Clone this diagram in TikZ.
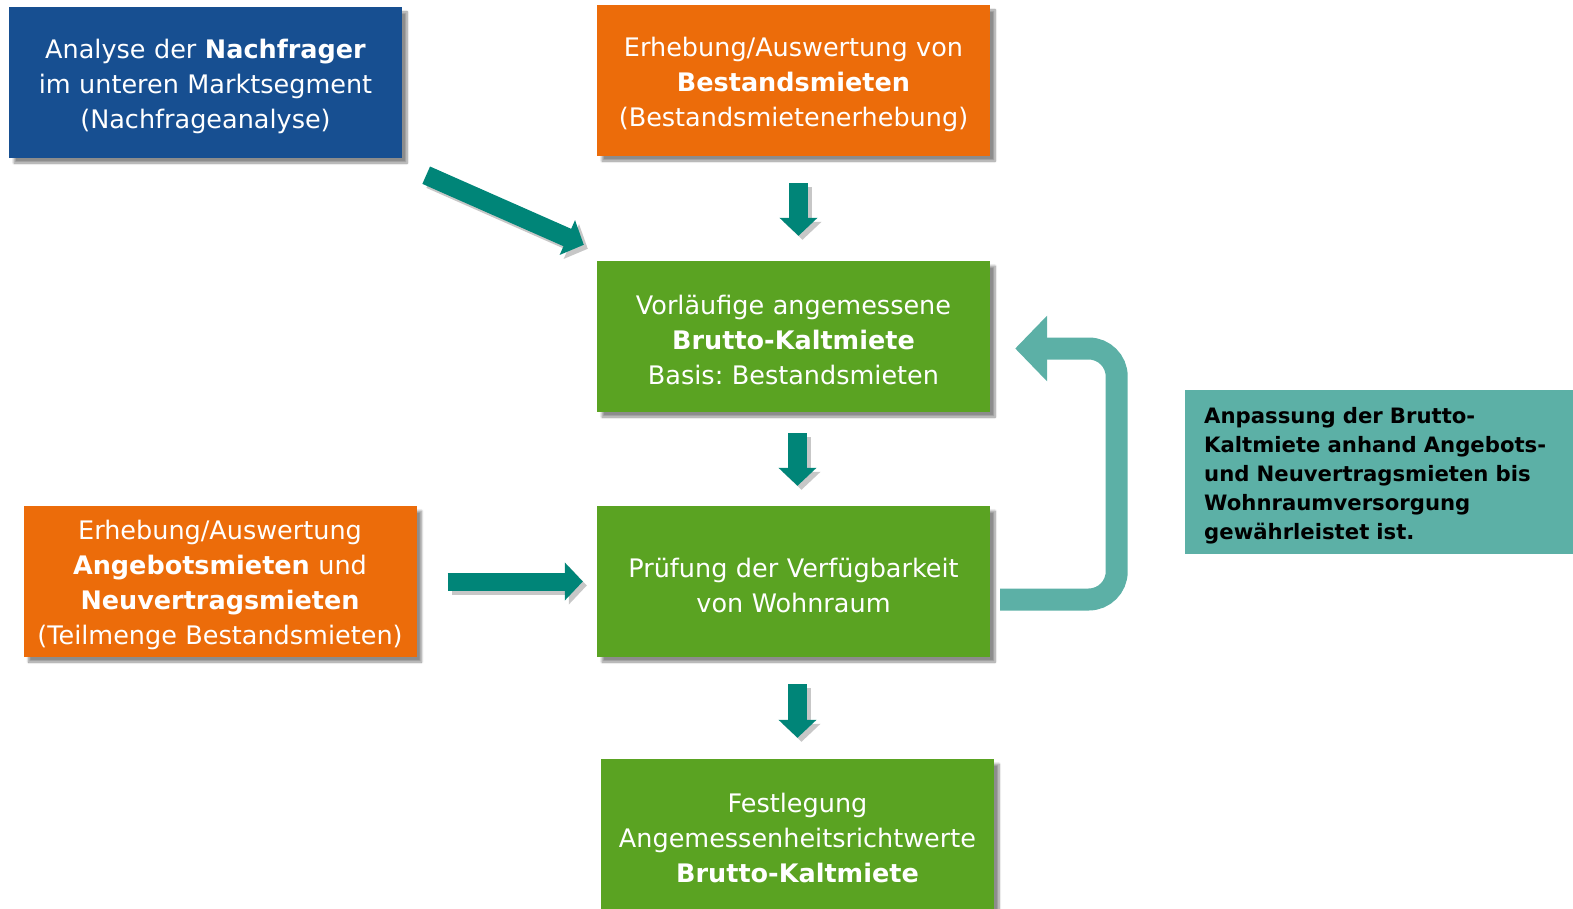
\documentclass[tikz,border=0pt]{standalone}
\usepackage{fontspec}
\setmainfont{DejaVu Sans}
\frenchspacing
\usetikzlibrary{arrows.meta,shadows.blur,calc}
\definecolor{cblue}{RGB}{23,79,145}
\definecolor{corange}{RGB}{236,108,10}
\definecolor{cgreen}{RGB}{90,163,34}
\definecolor{cteal}{RGB}{0,133,120}
\definecolor{clight}{RGB}{92,176,166}
\begin{document}
\begin{tikzpicture}[x=1pt,y=-1pt,
 box/.style={rectangle, inner sep=0pt, text width=393pt, minimum height=151pt, align=center, text=white,
   font=\fontsize{25.5}{35}\selectfont\frenchspacing, execute at begin node={\rule{0pt}{27pt}},
   blur shadow={shadow xshift=5pt, shadow yshift=-5pt, shadow blur steps=8, shadow opacity=45}},
 note/.style={rectangle, fill=clight, inner xsep=19pt, inner ysep=0pt, text width=350pt, minimum height=164pt,
   align=left, text=black, font=\bfseries\fontsize{21.2}{29}\selectfont,
   execute at begin node={\rule{0pt}{24pt}}},
 flow/.style={line width=#1, draw=cteal, -{Triangle[width=37pt,length=18pt]}},
 flowshadow/.style={line width=#1, draw=black!22, -{Triangle[width=37pt,length=18pt]},
   transform canvas={shift={(4pt,-4pt)}}},
]
\useasboundingbox (0,0) rectangle (1573,909);

\node[box, fill=cblue] (nach) at (205.5,82.5) {Analyse der \textbf{Nachfrager}\\im unteren Marktsegment\\(Nachfrageanalyse)};
\node[box, fill=corange] (best) at (793.5,80.5) {Erhebung/Auswertung von\\\textbf{Bestandsmieten}\\(Bestandsmietenerhebung)};
\node[box, fill=cgreen] (vorl) at (793.5,336.5) {Vorläufige angemessene\\\textbf{Brutto-Kaltmiete}\\Basis: Bestandsmieten};
\node[box, fill=cgreen] (pruef) at (793.5,581.5) {Prüfung der Verfügbarkeit\\von Wohnraum};
\node[box, fill=cgreen] (fest) at (797.5,834.5) {Festlegung\\Angemessenheitsrichtwerte\\\textbf{Brutto-Kaltmiete}};
\node[box, fill=corange] (angeb) at (220,581.5) {Erhebung/Auswertung\\\textbf{Angebotsmieten} und\\\textbf{Neuvertragsmieten}\\(Teilmenge Bestandsmieten)};
\node[note, anchor=west] (anp) at (1185,472) {Anpassung der Brutto-\\Kaltmiete anhand Angebots-\\und Neuvertragsmieten bis\\Wohnraumversorgung\\gewährleistet ist.};

% loop arrow
\coordinate (ls) at ($(pruef.east)+(10,18)$);
\coordinate (le) at ($(vorl.east)+(25,12)$);
\draw[line width=22pt, draw=clight, rounded corners=28pt, -{Triangle[width=64pt,length=32pt]}]
  (ls) -- ++(116.5,0) |- (le);

% shadows of flow arrows
\draw[flowshadow=19pt] ($(best.south)+(5,27)$) -- ($(vorl.north)+(5,-25)$);
\draw[flowshadow=19pt] ($(vorl.south)+(4,21)$) -- ($(pruef.north)+(4,-20)$);
\draw[flowshadow=19pt] ($(pruef.south)+(4,27)$) -- ($(fest.north)+(0,-21)$);
\draw[flowshadow=18pt] ($(angeb.east)+(31,0)$) -- ($(pruef.west)+(-14,0)$);
\draw[flowshadow=19pt] ($(nach.south east)+(24,17)$) -- ($(vorl.north west)+(-13,-16)$);

% flow arrows
\draw[flow=19pt] ($(best.south)+(5,27)$) -- ($(vorl.north)+(5,-25)$);
\draw[flow=19pt] ($(vorl.south)+(4,21)$) -- ($(pruef.north)+(4,-20)$);
\draw[flow=19pt] ($(pruef.south)+(4,27)$) -- ($(fest.north)+(0,-21)$);
\draw[flow=18pt] ($(angeb.east)+(31,0)$) -- ($(pruef.west)+(-14,0)$);
\draw[flow=19pt] ($(nach.south east)+(24,17)$) -- ($(vorl.north west)+(-13,-16)$);
\end{tikzpicture}
\end{document}
